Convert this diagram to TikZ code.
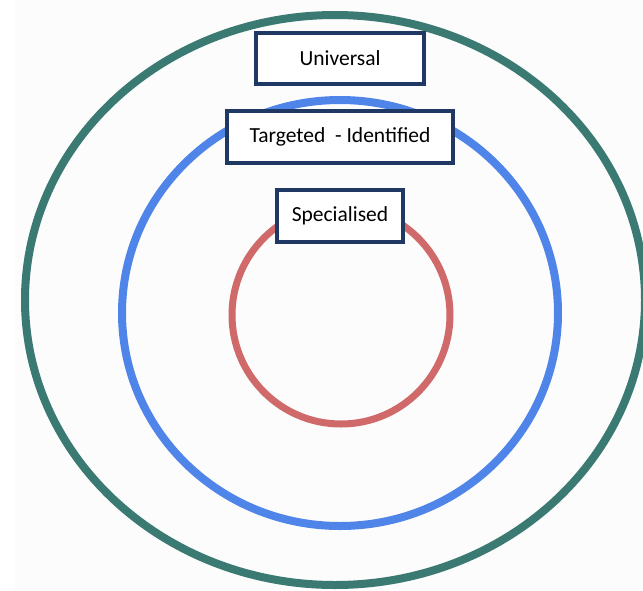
\documentclass[tikz,border=0pt]{standalone}
\usepackage{fontspec}
\setmainfont{Carlito}
\definecolor{ringouter}{HTML}{3B7A72}
\definecolor{ringmid}{HTML}{4F84E8}
\definecolor{ringinner}{HTML}{D06A6A}
\definecolor{boxedge}{HTML}{1F3864}
\begin{document}
\begin{tikzpicture}[x=1pt,y=-1pt,
  ring/.style={line width=8pt},
  label box/.style={draw=boxedge, line width=3.5pt, fill=white,
    inner sep=0pt, font=\fontsize{21.5}{24}\selectfont, text=black}]
  \useasboundingbox (0,0) rectangle (643,590);
  \fill[white] (0,0) rectangle (643,590);
  \fill[black!1] (15,0) rectangle (643,590);
  % three nested rings
  \draw[ring, ringouter] (335,300) ellipse [x radius=310, y radius=285];
  \draw[ring, ringmid] (340,313) ellipse [x radius=218, y radius=213];
  \draw[ring, ringinner, line width=7pt] (341,315) circle [radius=109];
  % labels
  \node[label box, minimum width=168pt, minimum height=51pt] (universal) at (340,58.5) {Universal};
  \node[label box, minimum width=226pt, minimum height=52pt] (targeted) at (340,137) {Targeted\ \ - Identified};
  \node[label box, minimum width=126pt, minimum height=52pt] (specialised) at (340,216) {Specialised};
\end{tikzpicture}
\end{document}
